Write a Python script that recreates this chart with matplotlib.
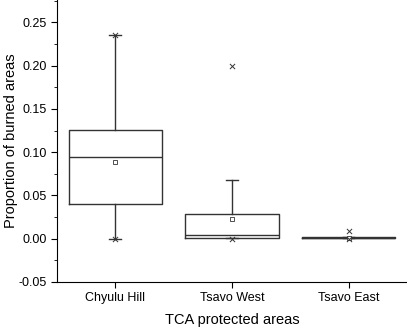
import matplotlib.pyplot as plt
from matplotlib.ticker import MultipleLocator, FormatStrFormatter

plt.rcParams['font.family'] = ['Liberation Sans', 'DejaVu Sans']
plt.rcParams['axes.unicode_minus'] = True

# Data
areas = ['Chyulu Hill', 'Tsavo West', 'Tsavo East']
q1 = [0.0396, 0.0010, 0.0005]
med = [0.094, 0.0038, 0.0012]
q3 = [0.126, 0.029, 0.0022]
whis_lo = [0.0, 0.0010, 0.0005]
whis_hi = [0.236, 0.068, 0.0022]
means = [0.089, 0.0226, 0.0012]
mins = [0.0, 0.0, 0.0]
maxs = [0.236, 0.200, 0.0084]

stats = []
for i, name in enumerate(areas):
    stats.append({'label': name, 'q1': q1[i], 'med': med[i], 'q3': q3[i],
                  'whislo': whis_lo[i], 'whishi': whis_hi[i],
                  'mean': means[i], 'fliers': []})

fig = plt.figure(figsize=(4.07, 3.28), dpi=100)
ax = fig.add_axes([57 / 407, 46 / 328, 350 / 407, 282 / 328])

lc = '#333333'
pos = [1, 2, 3]
ax.bxp(stats, positions=pos, widths=0.8, showmeans=True, showfliers=False,
       boxprops=dict(color=lc, linewidth=1.0),
       medianprops=dict(color=lc, linewidth=1.0),
       whiskerprops=dict(color=lc, linewidth=1.0),
       capprops=dict(color=lc, linewidth=1.0),
       capwidths=0.1,
       meanprops=dict(marker='s', markersize=3, markerfacecolor='white',
                      markeredgecolor=lc, markeredgewidth=0.6))
ax.scatter(pos, mins, marker='x', s=14, color=lc, linewidths=0.7, zorder=3)
ax.scatter(pos, maxs, marker='x', s=14, color=lc, linewidths=0.7, zorder=3)

ax.set_xlim(0.5, 3.5)
ax.set_ylim(-0.05, 0.276)
ax.set_xticks(pos)
ax.set_xticklabels(areas)
ax.yaxis.set_major_locator(MultipleLocator(0.05))
ax.yaxis.set_minor_locator(MultipleLocator(0.025))
ax.yaxis.set_major_formatter(FormatStrFormatter('%.2f'))
ax.spines['top'].set_visible(False)
ax.spines['right'].set_visible(False)
ax.tick_params(axis='both', which='major', labelsize=9, length=4, direction='out')
ax.tick_params(axis='y', which='minor', length=2.5, direction='out')
ax.set_xlabel('TCA protected areas', fontsize=10.5, labelpad=6)
ax.set_ylabel('Proportion of burned areas', fontsize=10.5)
ax.yaxis.set_label_coords(-0.112, 0.5)

fig.savefig('out.png', dpi=100)
